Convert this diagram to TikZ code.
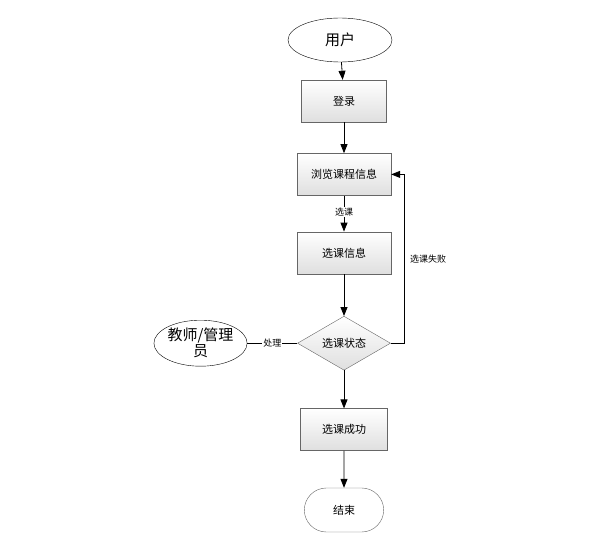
\documentclass[tikz,border=0pt]{standalone}
\usepackage{fontspec}
\setmainfont{Noto Sans CJK SC}
\usetikzlibrary{arrows.meta,positioning,shapes.geometric,shapes.misc}

\tikzset{
  procbox/.style={rectangle, draw=gray!80!black, top color=white, bottom color=gray!25,
    minimum width=87pt, minimum height=42pt, font=\fontsize{11}{13}\selectfont},
  choice/.style={diamond, draw=gray!80!black, top color=white, bottom color=gray!25,
    minimum width=93pt, minimum height=54pt, aspect=1.7, inner sep=0pt, font=\fontsize{11}{13}\selectfont},
  actor/.style={ellipse, draw=black, fill=white, inner sep=0pt},
  finish/.style={rounded rectangle, draw=gray!80!black, fill=white,
    minimum width=86pt, minimum height=44pt, font=\fontsize{11}{13}\selectfont},
  flow/.style={-{Triangle[length=9pt,width=7pt]}, thick},
  tag/.style={fill=white, inner sep=1pt, font=\fontsize{9}{11}\selectfont}
}

\begin{document}
\begin{tikzpicture}[x=1pt, y=-1pt]
  \useasboundingbox (0,0) rectangle (596,548);
  \node (user) [actor, minimum width=104pt, minimum height=44pt, font=\fontsize{15}{17}\selectfont] at (340,40) {用户};
  \node (login) [procbox, minimum width=85pt] at (344,101) {登录};
  \node (browse) [procbox, minimum width=94pt, below=31pt of login] {浏览课程信息};
  \node (pick) [procbox, minimum width=94pt, below=36pt of browse] {选课信息};
  \node (state) [choice, below=42pt of pick] {选课状态};
  \node (ok) [procbox, below=38pt of state] {选课成功};
  \node (done) [finish, below=37pt of ok] {结束};
  \node (admin) [actor, minimum width=93pt, minimum height=46pt, align=center,
    font=\fontsize{15}{16}\selectfont, left=50pt of state] {教师/管理\\员};
  \coordinate (turn) at ([xshift=14pt]state.east);

  \draw[flow] (user) -- (login);
  \draw[flow] (login) -- (browse);
  \draw[flow] (browse) -- node[tag, pos=0.45] {选课} (pick);
  \draw[flow] (pick) -- (state);
  \draw[flow] (state) -- (ok);
  \draw[flow] (ok) -- (done);
  \draw[flow] (state.east) -- (turn) |- node[tag, pos=0.25, right=4pt] {选课失败} (browse.east);
  \draw[thick] (admin) -- node[tag] {处理} (state);
\end{tikzpicture}
\end{document}
